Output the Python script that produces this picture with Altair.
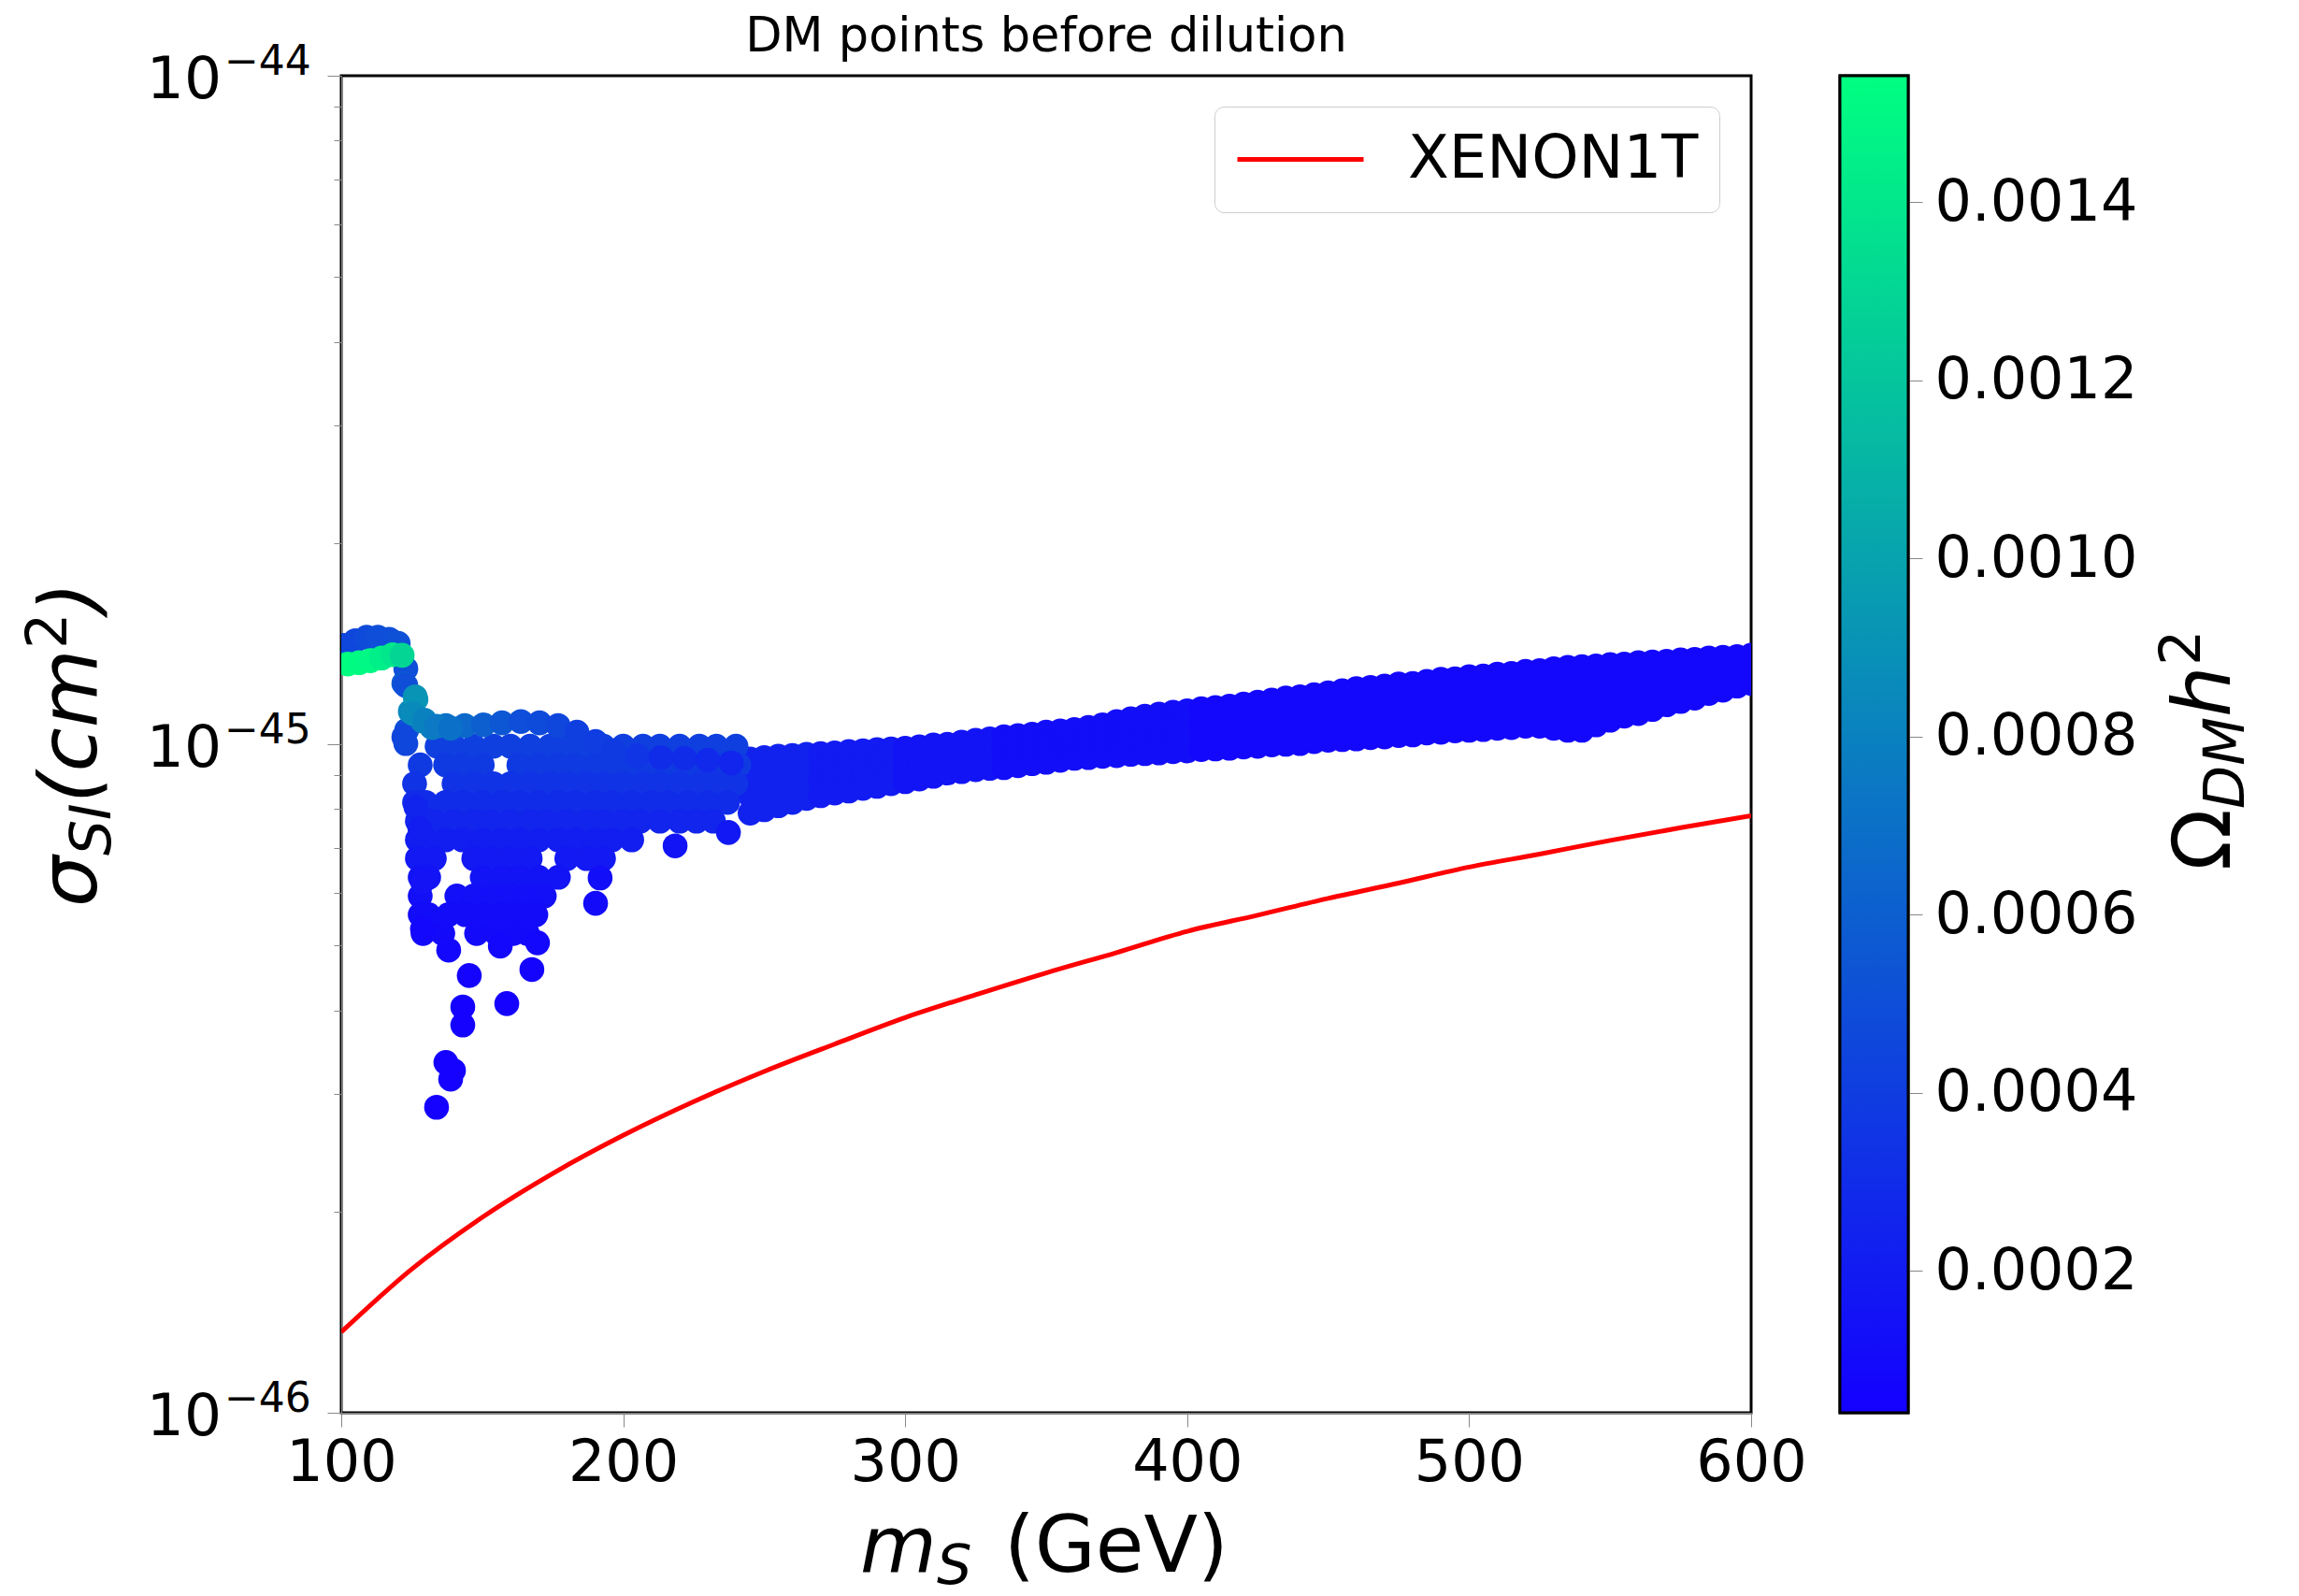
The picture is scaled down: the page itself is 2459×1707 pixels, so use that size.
import altair as alt
import pandas as pd

# ---------------- colour scale (Omega_DM h^2) ----------------
OMEGA_MIN = 0.0000404
OMEGA_MAX = 0.001542
CMAP = ["#1400ff", "#00ff80"]
CBAR_TICKS = [0.0002, 0.0004, 0.0006, 0.0008, 0.0010, 0.0012, 0.0014]

# ---------------- y tick labels ----------------
ylab_values = [1e-46, 1e-45, 1e-44]
ylab_sup = ["−46", "−45", "−44"]

# ---------------- main band (m_S >= 245 GeV), values are log10(sigma / 1e-45 cm^2) ----------------
band_m = [245, 250, 255, 260, 265, 270, 275, 280, 285, 290, 295, 300, 305, 310, 315, 320, 325, 330,
          335, 340, 345, 350, 355, 360, 365, 370, 375, 380, 385, 390, 395, 400, 405, 410, 415, 420,
          425, 430, 435, 440, 445, 450, 455, 460, 465, 470, 475, 480, 485, 490, 495, 500, 505, 510,
          515, 520, 525, 530, 535, 540, 545, 550, 555, 560, 565, 570, 575, 580, 585, 590, 595, 600]
band_lg_top = [-0.022, -0.020, -0.018, -0.017, -0.015, -0.014, -0.013, -0.011, -0.010, -0.008, -0.007, -0.006,
               -0.004, -0.001, 0.000, 0.003, 0.006, 0.008, 0.011, 0.013, 0.015, 0.018, 0.020, 0.022,
               0.025, 0.029, 0.034, 0.038, 0.042, 0.045, 0.048, 0.050, 0.053, 0.055, 0.057, 0.060,
               0.063, 0.066, 0.069, 0.071, 0.074, 0.077, 0.080, 0.083, 0.085, 0.087, 0.090, 0.091,
               0.094, 0.097, 0.098, 0.101, 0.102, 0.105, 0.106, 0.109, 0.110, 0.113, 0.115, 0.116,
               0.117, 0.119, 0.120, 0.122, 0.123, 0.124, 0.126, 0.127, 0.129, 0.130, 0.131, 0.133]
band_lg_upper = [-0.049, -0.046, -0.043, -0.041, -0.038, -0.035, -0.032, -0.031, -0.028, -0.027, -0.024, -0.022,
                 -0.020, -0.017, -0.014, -0.011, -0.008, -0.007, -0.004, -0.003, 0.000, 0.003, 0.006, 0.008,
                 0.010, 0.014, 0.017, 0.020, 0.024, 0.025, 0.028, 0.031, 0.032, 0.034, 0.036, 0.039,
                 0.041, 0.043, 0.046, 0.048, 0.050, 0.053, 0.056, 0.057, 0.060, 0.062, 0.064, 0.066,
                 0.069, 0.070, 0.071, 0.074, 0.076, 0.078, 0.080, 0.081, 0.083, 0.088, 0.090, 0.090,
                 0.088, 0.091, 0.094, 0.097, 0.099, 0.102, 0.105, 0.108, 0.110, 0.113, 0.116, 0.119]
band_lg_lower = [-0.077, -0.071, -0.067, -0.063, -0.059, -0.056, -0.053, -0.050, -0.048, -0.045, -0.042, -0.039,
                 -0.036, -0.032, -0.029, -0.027, -0.024, -0.021, -0.020, -0.017, -0.014, -0.011, -0.010, -0.007,
                 -0.004, -0.003, 0.000, 0.003, 0.004, 0.007, 0.008, 0.010, 0.013, 0.014, 0.015, 0.017,
                 0.020, 0.021, 0.022, 0.025, 0.028, 0.029, 0.031, 0.034, 0.035, 0.036, 0.038, 0.039,
                 0.042, 0.045, 0.046, 0.048, 0.049, 0.050, 0.052, 0.055, 0.055, 0.062, 0.063, 0.064,
                 0.059, 0.064, 0.069, 0.071, 0.076, 0.081, 0.085, 0.088, 0.094, 0.098, 0.102, 0.105]
band_mid_m = [530, 535, 540]          # extra row where the band is widest
band_lg_mid = [0.038, 0.037, 0.037]
band_lg_bottom = [-0.103, -0.098, -0.092, -0.087, -0.081, -0.077, -0.073, -0.070, -0.066, -0.063, -0.059, -0.056,
                  -0.052, -0.048, -0.043, -0.041, -0.038, -0.036, -0.035, -0.032, -0.029, -0.027, -0.024, -0.021,
                  -0.020, -0.018, -0.017, -0.015, -0.014, -0.013, -0.011, -0.010, -0.008, -0.007, -0.006, -0.004,
                  -0.003, -0.001, 0.000, 0.001, 0.004, 0.006, 0.007, 0.008, 0.010, 0.011, 0.013, 0.014,
                  0.017, 0.018, 0.020, 0.021, 0.022, 0.024, 0.025, 0.027, 0.027, 0.024, 0.021, 0.021,
                  0.029, 0.036, 0.042, 0.046, 0.052, 0.059, 0.064, 0.069, 0.076, 0.081, 0.087, 0.091]
band_omega = ([0.00024] * 5 + [0.00020] * 6 + [0.00016] * 7 + [0.00012] * 14 + [0.00009] * 40)

# ---------------- dense block below the shelf (m_S 125-240 GeV) ----------------
block_rows = [  # (log10(sigma/1e-45), omega, masses in GeV)
    (-0.003, 0.00042, [134, 140, 147, 154, 160, 167, 174, 180, 187, 193, 200, 207, 213, 220, 227, 233, 240]),
    (-0.031, 0.00038, [128, 137, 143, 150, 163, 170, 177, 183, 190, 196, 203, 210, 216, 223, 230, 236, 241]),
    (-0.059, 0.00034, [126, 140, 147, 154, 160, 167, 174, 180, 187, 193, 200, 207, 213, 220, 227, 233, 240]),
    (-0.087, 0.00030, [126, 130, 137, 143, 150, 157, 163, 170, 177, 183, 190, 196, 203, 210, 216, 223, 230, 237]),
    (-0.115, 0.00026, [127, 133, 140, 147, 153, 160, 167, 173, 180, 187, 193, 200, 206, 213, 220, 226, 232]),
    (-0.143, 0.00022, [127, 130, 137, 143, 150, 157, 163, 170, 177, 183, 190, 196, 203]),
    (-0.171, 0.00019, [127, 133, 147, 153, 160, 167, 180, 187, 193]),
    (-0.199, 0.00016, [128, 131, 150, 157, 163, 170, 177]),
    (-0.227, 0.00013, [128, 141, 147, 154, 160, 166, 172]),
    (-0.255, 0.00011, [128, 131, 138, 144, 150, 157, 163, 169]),
    (-0.283, 0.00010, [129, 136, 148, 155, 161, 166]),
]

# ---------------- isolated low points ----------------
sparse_m = [126.5, 127.9, 128.8, 128.8, 138.1, 156.4, 169.6, 145.4, 167.6, 158.7, 143.1, 143.1,
            137.1, 139.8, 138.8, 133.8, 190.2, 191.8, 218.4, 237.3]
sparse_lg = [-0.094, -0.126, -0.206, -0.276, -0.308, -0.302, -0.297, -0.346, -0.337, -0.388, -0.393, -0.420,
             -0.476, -0.488, -0.501, -0.543, -0.238, -0.200, -0.152, -0.132]
sparse_omega = [0.00025, 0.00022, 0.00015, 0.00009, 0.00008, 0.00008, 0.00008, 0.00006, 0.00006, 0.00005,
                0.00005, 0.00005, 0.00005, 0.00005, 0.00005, 0.00005, 0.00010, 0.00012, 0.00016, 0.00018]

# ---------------- upper shelf ----------------
shelf_m = [137.1, 143.8, 150.4, 157.0, 163.7, 170.3, 176.9, 183.6, 190.2, 196.8, 205.1, 213.4, 221.7, 230.0, 238.3]
shelf_lg = [0.028, 0.028, 0.029, 0.032, 0.034, 0.032, 0.028, 0.018, 0.004, -0.010, -0.017, -0.020, -0.021, -0.024, -0.028]
shelf_omega = [0.00070, 0.00065, 0.00060, 0.00055, 0.00050, 0.00048, 0.00045, 0.00042, 0.00040, 0.00038,
               0.00035, 0.00030, 0.00030, 0.00028, 0.00026]

# ---------------- neck and cap near m_S ~ 100-135 GeV ----------------
neck_m = [122.9, 122.2, 122.9, 123.2, 122.2, 122.9, 126.2, 124.5, 128.8, 132.2, 126.5, 125.5, 129.5, 133.8, 138.8]
neck_lg = [0.113, 0.091, 0.088, 0.021, 0.011, 0.001, 0.071, 0.049, 0.035, 0.025, 0.067, 0.046, 0.036, 0.027, 0.024]
neck_omega = [0.00050, 0.00055, 0.00050, 0.00050, 0.00045, 0.00045, 0.00090, 0.00085, 0.00080, 0.00078,
              0.00092, 0.00086, 0.00080, 0.00075, 0.00070]

cap_blue_m = [101.0, 105.0, 109.0, 113.0, 117.0, 120.2]
cap_blue_lg = [0.148, 0.155, 0.160, 0.160, 0.157, 0.151]
cap_blue_omega = [0.00045, 0.00045, 0.00048, 0.00050, 0.00050, 0.00052]

cap_green_m = [102.3, 106.3, 110.3, 114.3, 118.2, 121.6]
cap_green_lg = [0.120, 0.122, 0.125, 0.129, 0.134, 0.133]
cap_green_omega = [0.00154, 0.00152, 0.00150, 0.00145, 0.00140, 0.00130]

# ---------------- XENON1T limit ----------------
xenon_m = [100, 125, 150, 175, 200, 225, 250, 275, 300, 325, 350, 375, 400, 425, 450, 475, 500, 525, 550, 575, 600]
xenon_sigma = [1.32e-46, 1.64e-46, 1.96e-46, 2.28e-46, 2.60e-46, 2.92e-46, 3.24e-46, 3.56e-46, 3.90e-46,
               4.22e-46, 4.55e-46, 4.88e-46, 5.25e-46, 5.55e-46, 5.88e-46, 6.20e-46, 6.55e-46, 6.85e-46,
               7.18e-46, 7.50e-46, 7.82e-46]

# ---------------- build point table ----------------
pts = []
for i, m in enumerate(band_m):
    for arr in (band_lg_top, band_lg_upper, band_lg_lower, band_lg_bottom):
        pts.append((m, arr[i], band_omega[i]))
for m, lg in zip(band_mid_m, band_lg_mid):
    pts.append((m, lg, 0.00009))
for lg, om, ms in block_rows:
    for m in ms:
        pts.append((m, lg, om))
for m, lg, om in zip(sparse_m, sparse_lg, sparse_omega):
    pts.append((m, lg, om))
for m, lg, om in zip(shelf_m, shelf_lg, shelf_omega):
    pts.append((m, lg, om))
for m, lg, om in zip(cap_blue_m, cap_blue_lg, cap_blue_omega):
    pts.append((m, lg, om))
for m, lg, om in zip(neck_m, neck_lg, neck_omega):
    pts.append((m, lg, om))
for m, lg, om in zip(cap_green_m, cap_green_lg, cap_green_omega):
    pts.append((m, lg, om))

df = pd.DataFrame(pts, columns=["m", "lg", "omega"])
df["sigma"] = 10 ** (df["lg"] - 45)
df["order"] = range(len(df))

xen = pd.DataFrame({"m": xenon_m, "sigma": xenon_sigma, "label": ["XENON1T"] * len(xenon_m)})
ylab = pd.DataFrame({"sigma": ylab_values, "sup": ylab_sup})

FONT = "DejaVu Sans"
W, H = 1508, 1430

y_values = [1e-46, 2e-46, 3e-46, 4e-46, 5e-46, 6e-46, 7e-46, 8e-46, 9e-46,
            1e-45, 2e-45, 3e-45, 4e-45, 5e-45, 6e-45, 7e-45, 8e-45, 9e-45, 1e-44]
is_decade = "abs(log(datum.value)/LN10 - round(log(datum.value)/LN10)) < 0.01"

x_scale = alt.Scale(domain=[100, 600], nice=False, zero=False)
y_scale = alt.Scale(type="log", domain=[1e-46, 1e-44], nice=False)

points = alt.Chart(df).mark_circle(size=707, opacity=1, clip=True).encode(
    x=alt.X("m:Q", scale=x_scale,
            axis=alt.Axis(values=[100, 200, 300, 400, 500, 600], format="d", tickSize=15,
                          labelFontSize=62, labelPadding=8, labelFlush=False, title=None, grid=False)),
    y=alt.Y("sigma:Q", scale=y_scale,
            axis=alt.Axis(values=y_values, labels=False,
                          tickSize={"condition": {"test": is_decade, "value": 15}, "value": 8},
                          title=None, grid=False)),
    color=alt.Color("omega:Q", scale=alt.Scale(domain=[OMEGA_MIN, OMEGA_MAX], range=CMAP,
                                               interpolate="rgb", clamp=True), legend=None),
    order=alt.Order("order:Q"),
)

line = alt.Chart(xen).mark_line(strokeWidth=5, clip=True, interpolate="monotone").encode(
    x=alt.X("m:Q", scale=x_scale),
    y=alt.Y("sigma:Q", scale=y_scale),
    stroke=alt.Stroke("label:N", scale=alt.Scale(domain=["XENON1T"], range=["#ff0000"]),
                      legend=alt.Legend(orient="none", legendX=934, legendY=33, title=None,
                                        symbolType="stroke", symbolSize=18225, symbolStrokeWidth=5,
                                        labelFontSize=64, labelFont=FONT, labelColor="black",
                                        labelOffset=45, labelLimit=0, padding=22,
                                        strokeColor="#cccccc", fillColor="white", cornerRadius=10,
                                        clipHeight=69)),
)

# y tick labels "10" with a superscript exponent, placed through the y scale
ylab_base = alt.Chart(ylab).mark_text(text="10", font=FONT, fontSize=63, align="right",
                                       baseline="alphabetic", dy=24, color="black").encode(
    y=alt.Y("sigma:Q", scale=y_scale), x=alt.value(-128))
ylab_exp = alt.Chart(ylab).mark_text(font=FONT, fontSize=44, align="left",
                                      baseline="alphabetic", dy=-1, color="black").encode(
    y=alt.Y("sigma:Q", scale=y_scale), x=alt.value(-125), text="sup:N")

one = alt.Data(values=[{"a": 1}])


def txt(s, x, y, size, italic=False, angle=0, align="left"):
    kw = dict(text=s, font=FONT, fontSize=size, align=align, baseline="alphabetic", color="black")
    if italic:
        kw["fontStyle"] = "italic"
    if angle:
        kw["angle"] = angle
    return alt.Chart(one).mark_text(**kw).encode(x=alt.value(x), y=alt.value(y))


texts = [
    txt("DM points before dilution", 754, -26, 51, align="center"),
    # y-axis title  sigma_SI (cm^2)
    txt("σ", -262, 889, 86, italic=True, angle=270),
    txt("SI", -247, 834, 60, italic=True, angle=270),
    txt("(cm", -262, 778, 86, italic=True, angle=270),
    txt("2", -294, 613, 60, angle=270),
    txt(")", -262, 575, 86, italic=True, angle=270),
    # x-axis title  m_S (GeV)
    txt("m", 555, 1600, 84, italic=True),
    txt("S", 637, 1613, 59, italic=True),
    txt("(GeV)", 709, 1600, 84),
]

view_style = alt.ViewBackground(stroke="black", strokeWidth=3)
main = alt.layer(points, line, ylab_base, ylab_exp, *texts).properties(width=W, height=H, view=view_style)

# ---------------- colour bar ----------------
cb_df = pd.DataFrame({"lo": [OMEGA_MIN], "hi": [OMEGA_MAX]})
grad = alt.LinearGradient(gradient="linear",
                          stops=[alt.GradientStop(offset=0, color=CMAP[0]),
                                 alt.GradientStop(offset=1, color=CMAP[1])],
                          x1=0, x2=0, y1=1, y2=0)
cbar_rect = alt.Chart(cb_df).mark_rect(fill=grad, stroke="black", strokeWidth=3).encode(
    y=alt.Y("lo:Q", scale=alt.Scale(domain=[OMEGA_MIN, OMEGA_MAX], nice=False, zero=False),
            axis=alt.Axis(orient="right", values=CBAR_TICKS, format=".4f", tickSize=15,
                          labelFontSize=62, labelPadding=13, labelLimit=0, title=None, grid=False,
                          domain=False)),
    y2="hi:Q",
    x=alt.value(0),
    x2=alt.value(73),
)
cb_texts = [
    txt("Ω", 417, 850, 86, angle=270),
    txt("DM", 432, 784, 60, italic=True, angle=270),
    txt("h", 417, 686, 86, italic=True, angle=270),
    txt("2", 385, 631, 60, angle=270),
]
cbar = alt.layer(cbar_rect, *cb_texts).properties(width=73, height=H, view=view_style)

chart = alt.hconcat(main, cbar, spacing=95, bounds="flush").properties(
    padding={"left": 21, "top": 12, "right": 0, "bottom": 0}
).configure_axis(
    labelFont=FONT, labelColor="black", tickColor="black", domainColor="black",
    tickWidth=2.5, domainWidth=3
).configure(font=FONT, background="white")

chart.save("out.html", embed_options={"renderer": "svg", "actions": False})
